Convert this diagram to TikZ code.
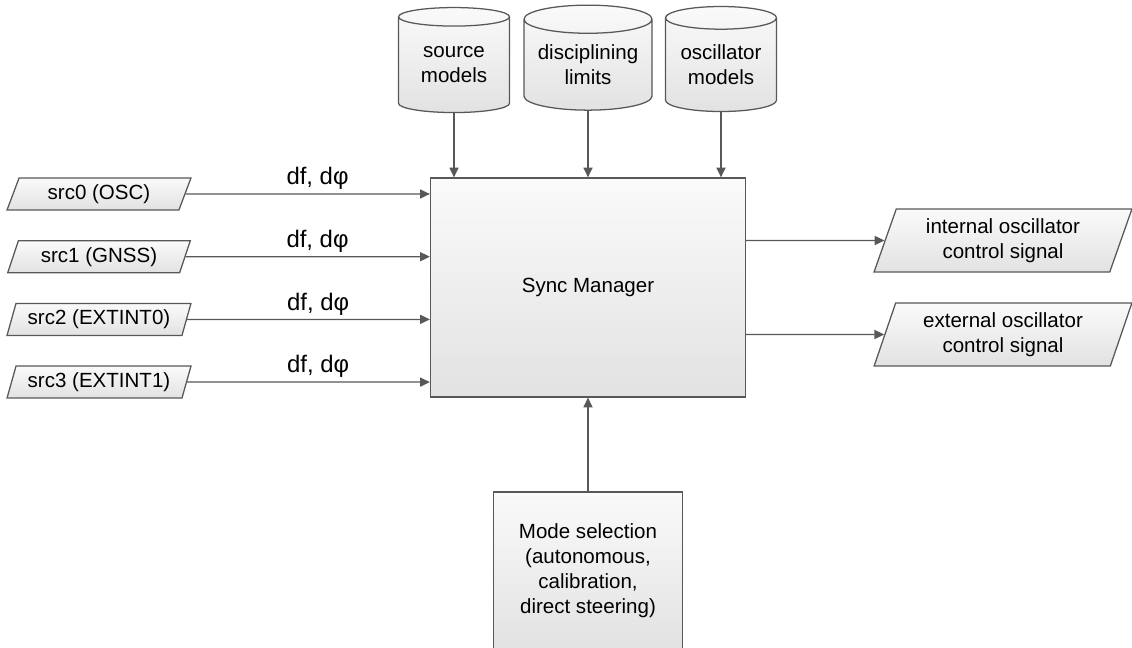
\documentclass[tikz,border=0pt]{standalone}
\usepackage{fontspec}
\setmainfont{Liberation Sans}
\usetikzlibrary{shapes.geometric, arrows.meta, positioning}

\definecolor{linegray}{RGB}{88,88,88}
\definecolor{filltop}{RGB}{250,250,250}
\definecolor{fillbot}{RGB}{226,226,226}

\def\px{0.025cm}

\tikzset{
  % shared look of all boxes
  block/.style={draw=linegray, line width=0.9pt, top color=filltop, bottom color=fillbot,
    align=center, inner sep=0pt},
  syncbox/.style={block, rectangle, minimum width=315*\px, minimum height=219*\px},
  modebox/.style={block, rectangle, minimum width=189*\px, minimum height=157*\px},
  store/.style={block, cylinder, shape border rotate=90, aspect=0.28},
  inbox/.style={block, trapezium, trapezium stretches=true,
    trapezium left angle=68, trapezium right angle=112,
    minimum width=184*\px, minimum height=32*\px},
  outbox/.style={block, trapezium, trapezium stretches=true,
    trapezium left angle=70, trapezium right angle=110,
    minimum width=258*\px, minimum height=63*\px},
  flow/.style={draw=linegray, line width=0.9pt, -{Triangle[length=7pt, width=6.5pt]}},
  dlabel/.style={font=\fontsize{17}{20}\selectfont, inner sep=2.5pt}
}

\begin{document}
\begin{tikzpicture}[x=\px, y=-\px,
    every node/.style={text=black, font=\fontsize{14.6}{17.7}\selectfont}
  ]
  \useasboundingbox (0,0) rectangle (1132,648);

  % --- Central block ---
  \node[syncbox] (sync) at (588,287.5) {Sync Manager};

  % --- Data stores on top ---
  \node[store, minimum width=111*\px, minimum height=105*\px] (srcmod) at (454,65) {source\\models};
  \node[store, minimum width=128*\px, minimum height=105*\px] (limits) at (588,65) {disciplining\\limits};
  \node[store, minimum width=111*\px, minimum height=105*\px] (oscmod) at (721,65) {oscillator\\models};

  \foreach \s in {srcmod, limits, oscmod}
    \draw[flow] (\s) -- (\s |- sync.north);

  % --- Sources on the left ---
  \foreach \i/\name in {0/OSC, 1/GNSS, 2/EXTINT0, 3/EXTINT1} {
    \node[inbox] (src\i) at (99,194+62.7*\i) {src\i{} (\name)};
    \draw[flow] (src\i) -- (sync.west |- src\i)
      node[dlabel, above, pos=0.54] {df, dφ};
  }

  % --- Outputs on the right ---
  \node[outbox] (intosc) at (1003,240.5) {internal oscillator\\control signal};
  \node[outbox] (extosc) at (1003,334.5) {external oscillator\\control signal};
  \draw[flow] (sync.east |- intosc) -- (intosc);
  \draw[flow] (sync.east |- extosc) -- (extosc);

  % --- Mode selection below ---
  \node[modebox] (mode) at (588,570.5) {Mode selection\\(autonomous,\\calibration,\\direct steering)};
  \draw[flow] (mode) -- (sync);
\end{tikzpicture}
\end{document}
